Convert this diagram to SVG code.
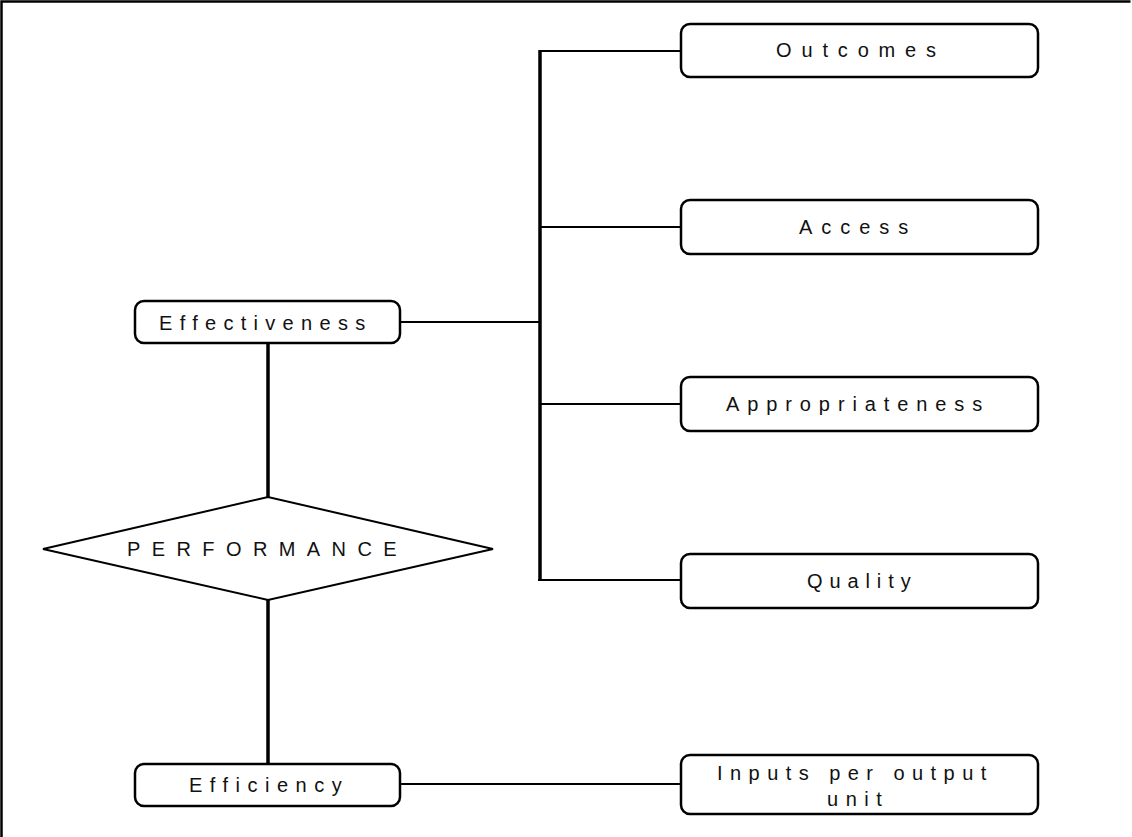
<svg xmlns="http://www.w3.org/2000/svg" width="1132" height="837" viewBox="0 0 1132 837">
<style>
.box{fill:#fff;stroke:#000;stroke-width:2.5}
.dia{fill:#fff;stroke:#000;stroke-width:2}
.t{font-family:"Liberation Sans",Arial,sans-serif;font-size:20px;fill:#111}
.c{stroke:#000;fill:none}
.thin{stroke-width:2}
.thick{stroke-width:3.5}
</style>
<rect x="0" y="0" width="1132" height="837" fill="#fff"/>
<g id="frame">
<path d="M1.5,837 V1.5 H1130.5" fill="none" stroke="#000" stroke-width="2.5"/>
</g>
<g id="connectors">
<line class="c thick" x1="540" y1="50" x2="540" y2="581"/>
<line class="c thin" x1="540" y1="51" x2="681" y2="51"/>
<line class="c thin" x1="540" y1="227" x2="681" y2="227"/>
<line class="c thin" x1="540" y1="404" x2="681" y2="404"/>
<line class="c thin" x1="538" y1="580" x2="681" y2="580"/>
<line class="c thin" x1="400" y1="322" x2="540" y2="322"/>
<line class="c thin" x1="400" y1="784" x2="681" y2="784"/>
<line class="c thick" x1="268" y1="343" x2="268" y2="497"/>
<line class="c thick" x1="268" y1="600" x2="268" y2="764"/>
</g>
<g id="outcomes">
<rect class="box" x="681" y="24" width="357" height="53" rx="9"/>
<text class="t" x="776" y="57" letter-spacing="9.85">Outcomes</text>
</g>
<g id="access">
<rect class="box" x="681" y="200" width="357" height="54" rx="9"/>
<text class="t" x="799" y="234" letter-spacing="8.95">Access</text>
</g>
<g id="appropriateness">
<rect class="box" x="681" y="377" width="357" height="54" rx="9"/>
<text class="t" x="726" y="411" letter-spacing="7.9">Appropriateness</text>
</g>
<g id="quality">
<rect class="box" x="681" y="554" width="357" height="54" rx="9"/>
<text class="t" x="807" y="588" letter-spacing="6.9">Quality</text>
</g>
<g id="inputs">
<rect class="box" x="681" y="755" width="357" height="59" rx="9"/>
<text class="t" x="717" y="780" letter-spacing="7.45">Inputs per output</text>
<text class="t" x="827" y="806" letter-spacing="7.55">unit</text>
</g>
<g id="effectiveness">
<rect class="box" x="135" y="301" width="265" height="42" rx="9"/>
<text class="t" x="159" y="330" letter-spacing="7.3">Effectiveness</text>
</g>
<g id="performance">
<polygon class="dia" points="43,549 268,497 493,549 268,600"/>
<text class="t" x="127" y="556" letter-spacing="11.4">PERFORMANCE</text>
</g>
<g id="efficiency">
<rect class="box" x="135" y="764" width="265" height="42" rx="9"/>
<text class="t" x="189" y="792" letter-spacing="7.5">Efficiency</text>
</g>
</svg>
